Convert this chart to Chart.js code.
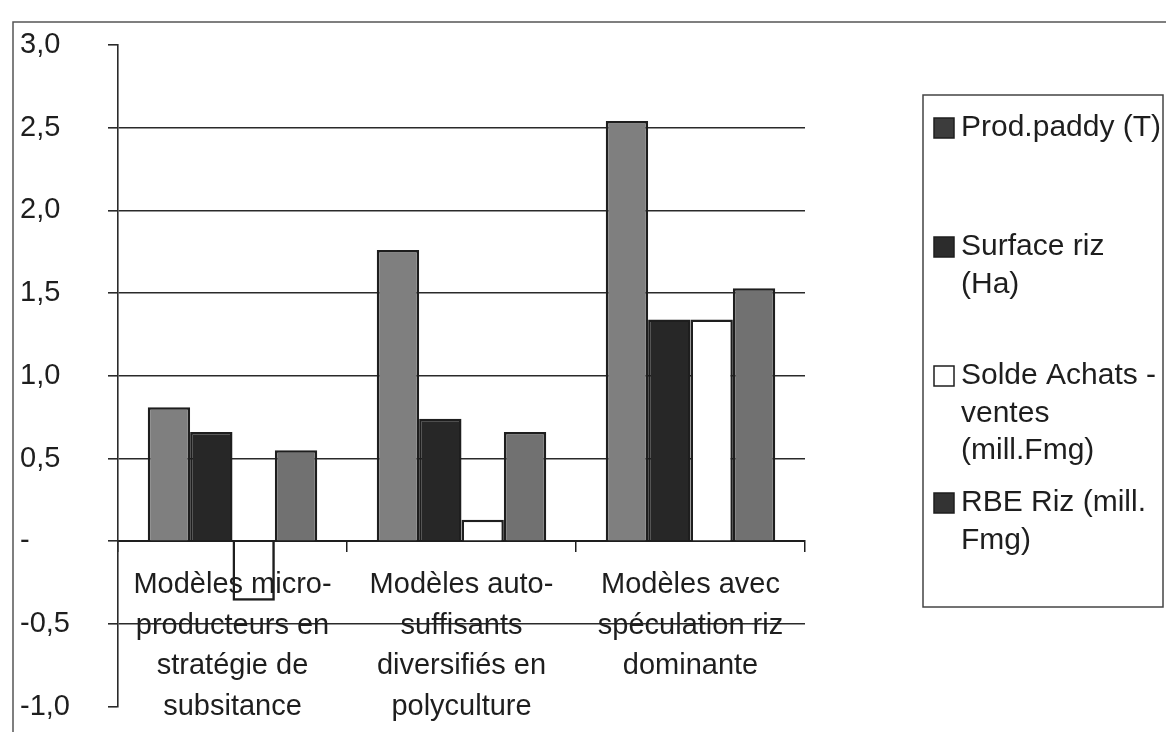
<!DOCTYPE html>
<html><head><meta charset="utf-8">
<script src="https://cdn.jsdelivr.net/npm/chart.js@4.4.1/dist/chart.umd.min.js"></script>
<style>html,body{margin:0;padding:0;background:#fff;}#wrap{position:relative;width:1166px;height:732px;}</style>
</head><body><div id="wrap"><canvas id="c" width="1166" height="732"></canvas></div>
<script>
const categories = [
  ["Modèles micro-","producteurs en","stratégie de","subsitance"],
  ["Modèles auto-","suffisants","diversifiés en","polyculture"],
  ["Modèles avec","spéculation riz","dominante"]
];
const seriesNames = ["Prod.paddy (T)","Surface riz (Ha)","Solde Achats - ventes (mill.Fmg)","RBE Riz (mill. Fmg)"];
const prodPaddy = [0.81, 1.76, 2.54];
const surfaceRiz = [0.66, 0.74, 1.34];
const soldeAchatsVentes = [-0.36, 0.13, 1.34];
const rbeRiz = [0.55, 0.66, 1.53];
const yTickValues = [-1, -0.5, 0, 0.5, 1, 1.5, 2, 2.5, 3];
const yTickLabels = ["-1,0","-0,5","-","0,5","1,0","1,5","2,0","2,5","3,0"];
const legendLines = [["Prod.paddy (T)"],["Surface riz","(Ha)"],["Solde Achats -","ventes","(mill.Fmg)"],["RBE Riz (mill.","Fmg)"]];

const FONT = "'Liberation Sans', Arial, sans-serif";
const INK = '#1e1e1e';
const fills = ['#7f7f7f', '#272727', '#ffffff', '#717171'];
const swatches = ['#3c3c3c', '#2c2c2c', '#ffffff', '#333333'];
const legendFirstY = [128, 247, 376, 503];
const legendLineH = 37.5;

const framePlugin = {
  id: 'frameLegend',
  afterDraw(chart) {
    const ctx = chart.ctx;
    ctx.save();
    ctx.strokeStyle = '#555';
    ctx.lineWidth = 1.5;
    ctx.beginPath();
    ctx.moveTo(13, 732); ctx.lineTo(13, 22); ctx.lineTo(1166, 22);
    ctx.stroke();
    ctx.strokeStyle = '#444';
    ctx.lineWidth = 1.5;
    ctx.strokeRect(923, 95, 240, 512);
    ctx.font = '30px ' + FONT;
    ctx.textBaseline = 'middle';
    ctx.textAlign = 'left';
    chart.data.datasets.forEach((ds, i) => {
      const y0 = legendFirstY[i];
      ctx.fillStyle = swatches[i];
      ctx.fillRect(934, y0 - 10, 20, 20);
      ctx.strokeStyle = INK; ctx.lineWidth = 1.5;
      ctx.strokeRect(934, y0 - 10, 20, 20);
      ctx.fillStyle = INK;
      legendLines[i].forEach((t, j) => {
        ctx.fillText(t, 961, y0 + j * legendLineH);
      });
    });
    ctx.restore();
  }
};

const mk = (i, data) => ({
  label: seriesNames[i], data,
  backgroundColor: (c) => (c.raw < 0 ? 'rgba(255,255,255,0)' : fills[i]),
  borderColor: INK, borderWidth: 2.5
});

new Chart(document.getElementById('c'), {
  type: 'bar',
  data: {
    labels: categories,
    datasets: [mk(0, prodPaddy), mk(1, surfaceRiz), mk(2, soldeAchatsVentes), mk(3, rbeRiz)]
  },
  options: {
    responsive: false, animation: false, devicePixelRatio: 1,
    layout: { padding: { left: 20, right: 361, top: 45, bottom: 22 } },
    datasets: { bar: { categoryPercentage: 0.74, barPercentage: 1 } },
    plugins: { legend: { display: false }, tooltip: { enabled: false } },
    scales: {
      x: {
        position: { y: 0 },
        grid: { offset: true, drawOnChartArea: false, drawTicks: true, tickLength: 10, color: INK, lineWidth: 1.5 },
        border: { display: true, color: INK, width: 2 },
        ticks: { color: INK, padding: 13, font: { family: FONT, size: 29, lineHeight: 1.41 }, maxRotation: 0, autoSkip: false }
      },
      y: {
        min: -1, max: 3,
        afterFit(s) { s.width = 98; },
        afterBuildTicks(s) { s.ticks = yTickValues.map(v => ({ value: v })); },
        grid: {
          color: c => (c.tick && (c.tick.value === 3 || c.tick.value === -1)) ? 'rgba(0,0,0,0)' : '#2a2a2a',
          tickColor: '#2a2a2a', lineWidth: 1.6, tickLength: 10, drawTicks: true
        },
        border: { display: true, color: '#2a2a2a', width: 1.6 },
        ticks: {
          color: INK, crossAlign: 'far', padding: 8,
          font: { family: FONT, size: 29 },
          callback: (v) => { const k = yTickValues.indexOf(v); return k >= 0 ? yTickLabels[k] : ''; }
        }
      }
    }
  },
  plugins: [framePlugin]
});
</script></body></html>
